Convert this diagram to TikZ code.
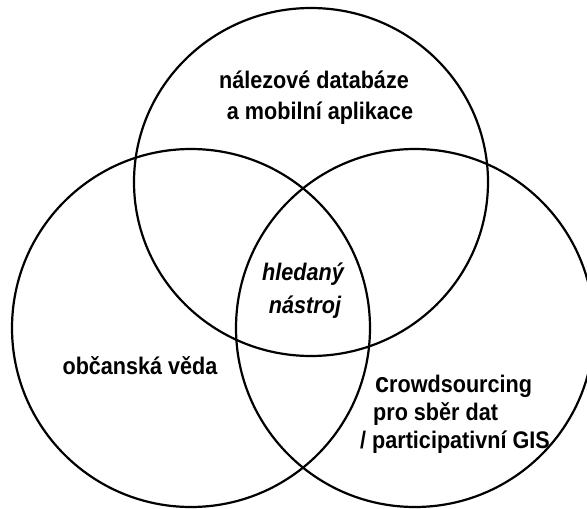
\documentclass[tikz,border=0pt]{standalone}
\usepackage{fontspec}
\setmainfont[FakeStretch=0.9]{Liberation Sans}
\begin{document}
\begin{tikzpicture}[x=1pt,y=-1pt,
  ring/.style={draw=black,line width=2.2pt},
  lbl/.style={inner sep=0pt,font=\fontsize{24}{26}\selectfont\bfseries},
  ilbl/.style={lbl,font=\fontsize{24}{26}\selectfont\bfseries\itshape}]
\useasboundingbox (0,0) rectangle (587,509);
\draw[ring] (311,182) ellipse[x radius=177,y radius=174];
\draw[ring] (191,328) circle[radius=179];
\draw[ring] (415,328) circle[radius=179];
\node[lbl] (t1) at (314,80) {nálezové databáze};
\node[lbl] (t2) at (320,113) {a mobilní aplikace};
\node[ilbl] (c1) at (303,274) {hledaný};
\node[ilbl] (c2) at (305,307) {nástroj};
\node[lbl] (l1) at (140,366) {občanská věda};
\node[lbl,anchor=west] (r1) at (375,386) {{\fontsize{28}{28}\selectfont c}rowdsourcing};
\node[lbl,anchor=west] (r2) at (373,414) {pro sběr dat};
\node[lbl,anchor=west] (r3) at (360,442) {/ participativní GIS};
\end{tikzpicture}
\end{document}
